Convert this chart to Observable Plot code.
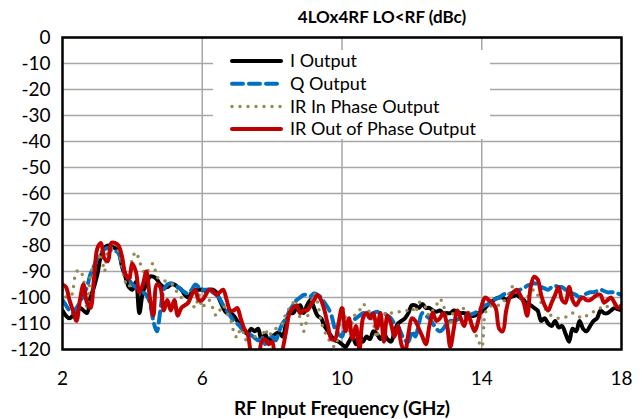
<!DOCTYPE html>
<html>
<head>
<meta charset="utf-8">
<script src="https://cdn.jsdelivr.net/npm/d3@7"></script>
<script src="https://cdn.jsdelivr.net/npm/@observablehq/plot@0.6"></script>
<style>
  body { margin: 0; background: #fff; }
  #wrap { position: relative; width: 642px; height: 419px; background: #fff; font-family: Lato, "Open Sans", sans-serif; color: #000; }
  #chart { position: absolute; top: 0; left: 0; }
  #title { position: absolute; top: 7px; left: 232px; width: 300px; text-align: center; font-weight: bold; font-size: 17px; line-height: 20px; }
  #legend { position: absolute; left: 213px; top: 50px; }
  #xlabel { position: absolute; top: 397px; left: 192px; width: 300px; text-align: center; font-weight: bold; font-size: 19px; line-height: 22px; }
</style>
</head>
<body>
<div id="wrap">
  <div id="chart"></div>
  <div id="title">4LOx4RF LO&lt;RF (dBc)</div>
  <div id="legend"></div>
  <div id="xlabel">RF Input Frequency (GHz)</div>
</div>
<script>
// ---------- data ----------
const freq = [
 2.0,2.1,2.2,2.3,2.4,2.5,2.6,2.7,2.8,2.9,
 3.0,3.1,3.2,3.3,3.4,3.5,3.6,3.7,3.8,3.9,
 4.0,4.1,4.2,4.3,4.4,4.5,4.6,4.7,4.8,4.9,
 5.0,5.1,5.2,5.3,5.4,5.5,5.6,5.7,5.8,5.9,
 6.0,6.1,6.2,6.3,6.4,6.5,6.6,6.7,6.8,6.9,
 7.0,7.1,7.2,7.3,7.4,7.5,7.6,7.7,7.8,7.9,
 8.0,8.1,8.2,8.3,8.4,8.5,8.6,8.7,8.8,8.9,
 9.0,9.1,9.2,9.3,9.4,9.5,9.6,9.7,9.8,9.9,
 10.0,10.1,10.2,10.3,10.4,10.5,10.6,10.7,10.8,10.9,
 11.0,11.1,11.2,11.3,11.4,11.5,11.6,11.7,11.8,11.9,
 12.0,12.1,12.2,12.3,12.4,12.5,12.6,12.7,12.8,12.9,
 13.0,13.1,13.2,13.3,13.4,13.5,13.6,13.7,13.8,13.9,
 14.0,14.1,14.2,14.3,14.4,14.5,14.6,14.7,14.8,14.9,
 15.0,15.1,15.2,15.3,15.4,15.5,15.6,15.7,15.8,15.9,
 16.0,16.1,16.2,16.3,16.4,16.5,16.6,16.7,16.8,16.9,
 17.0,17.1,17.2,17.3,17.4,17.5,17.6,17.7,17.8,17.9,
 18.0
];

const iOutput = [
 -105,-107,-108,-107,-106,-104,-105,-106,-100,-96,
 -91,-84,-81,-80,-80.5,-81,-82,-88,-92,-96,
 -97,-94,-106,-98,-95,-92,-92,-93,-95,-96,
 -96,-95,-95,-96,-97,-99,-100,-98,-97,-97,
 -97,-97.5,-97,-97,-98,-101,-104,-106,-106,-107,
 -109,-111,-113,-114,-112,-113,-112,-117,-114,-117,
 -115,-114,-113.5,-115,-110,-106,-106,-104,-103,-106,
 -103,-101,-104,-107,-108,-111,-113,-115,-116.5,-117,
 -118,-119,-117,-115,-118,-114,-117,-115,-116,-113,
 -114,-116,-114,-116,-117,-113.5,-110,-109,-108,-106,
 -103,-103,-104,-102.5,-104,-104,-105,-105.5,-105,-106,
 -106,-106,-105,-105.5,-106,-106,-106.5,-107,-107,-106,
 -105.5,-104,-102.5,-101.5,-100.5,-100,-100,-101,-100,-99.5,
 -99,-100,-101,-102.5,-103,-104,-105,-109,-108,-110,
 -111,-109,-111.5,-111,-114,-117,-112,-113,-109,-112,
 -113,-111,-109,-108,-105,-106,-106,-105,-104,-104.5,
 -105
];

const qOutput = [
 -101,-103,-105,-106,-104,-102,-99,-96,-91,-88,
 -85,-83,-81.5,-81,-82,-82,-83,-87,-91,-93,
 -95,-96,-97,-98,-99,-102,-109,-113,-105,-97,
 -95,-94.5,-95,-96,-97,-98,-98.5,-97,-95,-96,
 -97,-97,-97,-98,-99,-100.5,-103,-105,-107,-109,
 -110,-111.5,-113,-113.5,-114.5,-115.5,-116.5,-115,-118,-116,
 -115,-116.5,-113,-110,-108,-105,-103,-101,-100,-99,
 -99,-99.5,-98.5,-99,-100,-102,-104,-107,-112,-114,
 -115,-110,-111,-109,-108,-107,-106,-106,-106.5,-106,
 -105.5,-106,-106,-107,-108,-110,-111,-114,-116.5,-117,
 -113,-115,-110,-106,-107,-108,-110,-112,-113,-112,
 -110,-109,-109,-108.5,-108,-107.5,-107,-106.5,-106,-105,
 -104,-103,-102.5,-101.5,-100.5,-100,-99,-98.5,-98.5,-98,
 -97.5,-97,-96.5,-95.5,-95,-94.5,-95,-96,-96.5,-97,
 -96,-95.5,-96,-96,-97,-97.5,-98.5,-99,-100,-99,
 -98.5,-98,-98,-97.5,-97,-97.5,-98,-98,-98,-98.5,
 -99
];

const irInPhase = [
 -97,-100,-102,-97,-90,-89.5,-93,-104,-92,-87,
 -86,-83,-90,-82,-81,-81,-82,-88,-94,-96,
 -85,-82.5,-86,-89.5,-91,-88,-87,-92,-93,-93.5,
 -94,-94.5,-96,-98.5,-100,-101,-102,-102.5,-104,-99,
 -104,-102,-101,-104,-107,-105,-103,-106,-108,-113,
 -115.5,-112,-114,-118,-116,-115,-115.5,-116.5,-112,-115,
 -113,-112,-111,-110,-106,-104,-102,-103,-108,-113,
 -108,-103,-98.5,-102,-109,-113,-115.5,-118,-119,-113,
 -103,-108,-113,-109,-106,-105,-102.5,-104,-106,-110,
 -115.5,-107,-106,-107,-106,-106,-105.5,-105.5,-105,-105,
 -104,-106,-102,-102,-104,-107,-105,-103,-100.5,-103,
 -108,-111,-105,-108,-106,-104,-105,-109,-113,-116.5,
 -119,-106,-104,-103,-102.5,-103,-102,-100,-98,-95.5,
 -98,-100,-100.5,-100,-98,-97,-99,-102,-104,-106,
 -107,-107.5,-108,-108,-107.5,-107,-106,-107,-107.5,-108,
 -107,-106,-105.5,-105,-104,-103,-103.5,-103,-103,-103.5,
 -104
];

const irOutPhase = [
 -95,-96,-101,-105,-109,-101,-95,-102,-104,-93,
 -81,-79,-85,-86,-79,-79,-80,-84,-91,-93,
 -87,-90,-98,-95,-90,-100,-107,-95,-96,-105,
 -101,-105,-101,-107,-104,-103,-102,-99,-97,-101,
 -101,-99,-97,-97.5,-99,-98,-97,-101,-105,-105,
 -104,-108,-112,-114,-122,-125,-124,-117,-116,-118,
 -117,-124,-125,-120,-113,-106,-104,-103,-106,-105,
 -105,-103,-101,-99,-101,-105,-111,-116,-116,-110,
 -104,-113,-108,-116,-111,-120,-108,-106,-108,-106,
 -112,-106,-117,-107,-110,-115,-111,-118,-121,-114,
 -108,-109,-112,-115,-118,-111,-106,-109,-108,-106,
 -110,-119,-112,-105,-108,-111,-106,-110,-113,-109,
 -103,-100,-101,-102,-104,-112,-113,-105,-100,-98,
 -97,-99,-102,-107,-96,-92,-93,-99,-103,-105,
 -102,-99,-96,-101,-102,-96,-101,-103,-101,-100,
 -101,-101,-100,-99,-99,-102,-101,-100,-102,-104,
 -103
];

const seriesNames = ["I Output", "Q Output", "IR In Phase Output", "IR Out of Phase Output"];
const seriesValues = [iOutput, qOutput, irInPhase, irOutPhase];
const seriesColors = ["#000000", "#0070C0", "#948A54", "#C00000"];
const seriesDash = [null, "11,6", "0,8", null];
const seriesWidth = [4, 4, 3.5, 4];

const xTicks = [2, 6, 10, 14, 18];
const xGrid = [6, 10, 14];
const yTicks = [0, -10, -20, -30, -40, -50, -60, -70, -80, -90, -100, -110, -120];

// ---------- build ----------
const rows = seriesNames.map((name, s) =>
  freq.map((f, i) => ({ series: name, freq: f, value: seriesValues[s][i] }))
);

const lineMarks = rows.map((data, s) =>
  Plot.line(data, {
    x: "freq", y: "value",
    stroke: seriesColors[s],
    strokeWidth: seriesWidth[s],
    strokeDasharray: seriesDash[s],
    strokeLinecap: "round",
    strokeLinejoin: "round",
    curve: "catmull-rom",
    clip: true
  })
);

const chart = Plot.plot({
  width: 642,
  height: 392,
  marginLeft: 62,
  marginRight: 21,
  marginTop: 37,
  marginBottom: 43,
  style: { fontFamily: "Lato, 'Open Sans', sans-serif", fontSize: "19px", color: "#000", background: "#fff" },
  x: { domain: [2, 18], ticks: xTicks, tickSize: 0, tickPadding: 22, tickFormat: d => String(d), label: null },
  y: { domain: [-120, 0], ticks: yTicks, tickSize: 0, tickPadding: 12, tickFormat: d => String(d), label: null },
  marks: [
    Plot.gridY(yTicks, { stroke: "#a6a6a6", strokeOpacity: 1, strokeWidth: 1.5 }),
    Plot.gridX(xGrid, { stroke: "#a6a6a6", strokeOpacity: 1, strokeWidth: 1.5 }),
    ...lineMarks,
    Plot.frame({ stroke: "#000", strokeWidth: 2.5 })
  ]
});
document.getElementById("chart").appendChild(chart);

// ---------- legend ----------
const lg = d3.select("#legend").append("svg")
  .attr("width", 277).attr("height", 89)
  .style("display", "block")
  .style("background", "#fff");
seriesNames.forEach((name, s) => {
  const cy = 11 + s * 22.7;
  lg.append("line")
    .attr("x1", 19).attr("x2", 68).attr("y1", cy).attr("y2", cy)
    .attr("stroke", seriesColors[s])
    .attr("stroke-width", seriesWidth[s])
    .attr("stroke-dasharray", seriesDash[s])
    .attr("stroke-linecap", "round");
  lg.append("text")
    .attr("x", 77).attr("y", cy).attr("dy", "0.35em")
    .attr("font-size", 18)
    .attr("font-family", "Lato, 'Open Sans', sans-serif")
    .attr("fill", "#000")
    .text(name);
});
</script>
</body>
</html>
